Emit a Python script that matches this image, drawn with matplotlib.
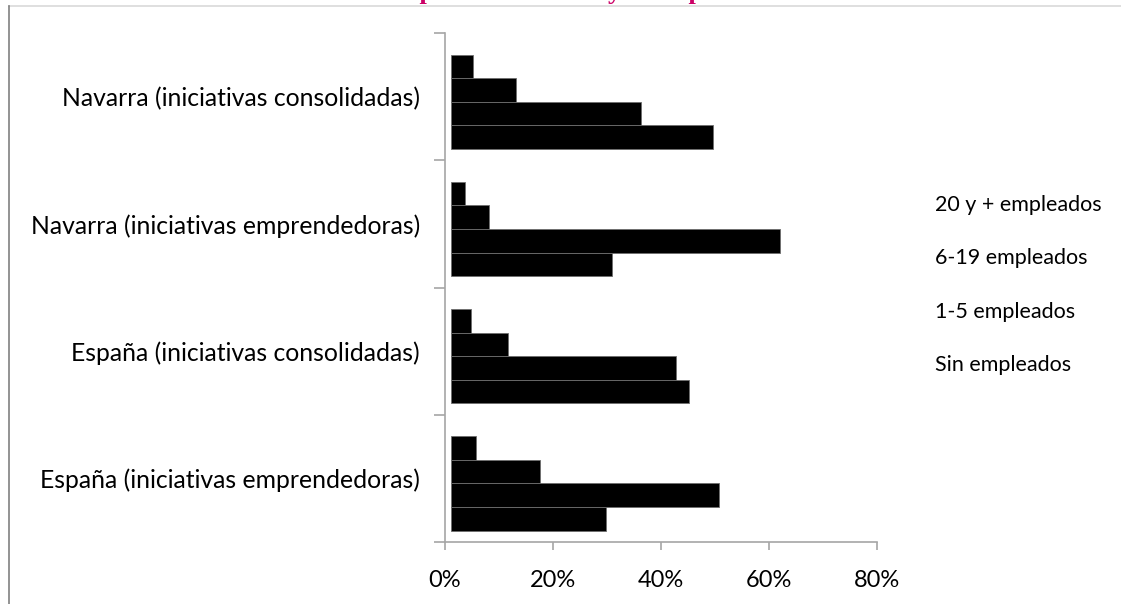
import matplotlib
matplotlib.use("Agg")
import matplotlib.pyplot as plt
import numpy as np

# Share of initiatives by number of employees (%)
categories = [
    "España (iniciativas emprendedoras)",
    "España (iniciativas consolidadas)",
    "Navarra (iniciativas emprendedoras)",
    "Navarra (iniciativas consolidadas)",
]
series_names = ["Sin empleados", "1-5 empleados", "6-19 empleados", "20 y + empleados"]
sin_empleados = [28.8, 44.1, 29.8, 48.5]
de_1_a_5 = [49.6, 41.7, 61.0, 35.2]
de_6_a_19 = [16.5, 10.6, 7.0, 12.0]
de_20_mas = [4.6, 3.7, 2.6, 4.0]
x_ticks = [0, 20, 40, 60, 80]
x_tick_labels = ["0%", "20%", "40%", "60%", "80%"]
title = "Empleo en Navarra y en España"

series_values = [sin_empleados, de_1_a_5, de_6_a_19, de_20_mas]

plt.rcParams["font.family"] = ["Lato", "DejaVu Sans"]

fig = plt.figure(figsize=(11.21, 6.04), dpi=100)
ax = fig.add_axes([445 / 1121, 1 - 542 / 604, 432 / 1121, 509 / 604])

axis_grey = "#a6a6a6"
bar_h = 0.185
group_shift = -0.04
bar_origin = 1.1

y = np.arange(len(categories))
n = len(series_values)
handles = []
for i, (name, vals) in enumerate(zip(series_names, series_values)):
    offs = (i - (n - 1) / 2) * bar_h + group_shift
    h = ax.barh(y + offs, vals, height=bar_h, left=bar_origin,
                color="black", edgecolor="#6e6e6e", linewidth=0.6,
                label=name, zorder=3)
    handles.append(h)

ax.set_xlim(0, 80)
ax.set_ylim(-0.5, len(categories) - 0.5)
ax.set_xticks(x_ticks)
ax.set_xticklabels(x_tick_labels, fontsize=17)

ax.set_yticks(y)
ax.set_yticklabels(categories, fontsize=17.8)
ax.set_yticks(np.arange(len(categories) + 1) - 0.5, minor=True)
ax.tick_params(axis="y", which="major", length=0, pad=18)
ax.tick_params(axis="y", which="minor", length=8, width=1.2, color=axis_grey)
ax.tick_params(axis="x", which="major", length=6, width=1.2, color=axis_grey, pad=14)

for side in ("top", "right"):
    ax.spines[side].set_visible(False)
for side in ("left", "bottom"):
    ax.spines[side].set_color(axis_grey)
    ax.spines[side].set_linewidth(1.2)

leg = ax.legend(handles=handles[::-1], labels=series_names[::-1],
                loc="upper left", bbox_to_anchor=(1.09, 0.72),
                frameon=False, fontsize=15.5, handlelength=0,
                handletextpad=0, labelspacing=1.55)
for hnd in leg.legend_handles:
    hnd.set_visible(False)

# chart area border
fig.add_artist(plt.Line2D([9 / 1121, 1], [1 - 6 / 604] * 2,
                          color="#d9d9d9", lw=1.2, transform=fig.transFigure))
fig.add_artist(plt.Line2D([9 / 1121] * 2, [0, 1 - 6 / 604],
                          color="#808080", lw=1.2, transform=fig.transFigure))

fig.text(562 / 1121, 1 + 0.5 / 604, title, ha="center", va="baseline",
         fontsize=19, fontweight="bold", color="#cc0066",
         family=["Liberation Serif", "DejaVu Serif"])

fig.savefig("out.png", dpi=100)
